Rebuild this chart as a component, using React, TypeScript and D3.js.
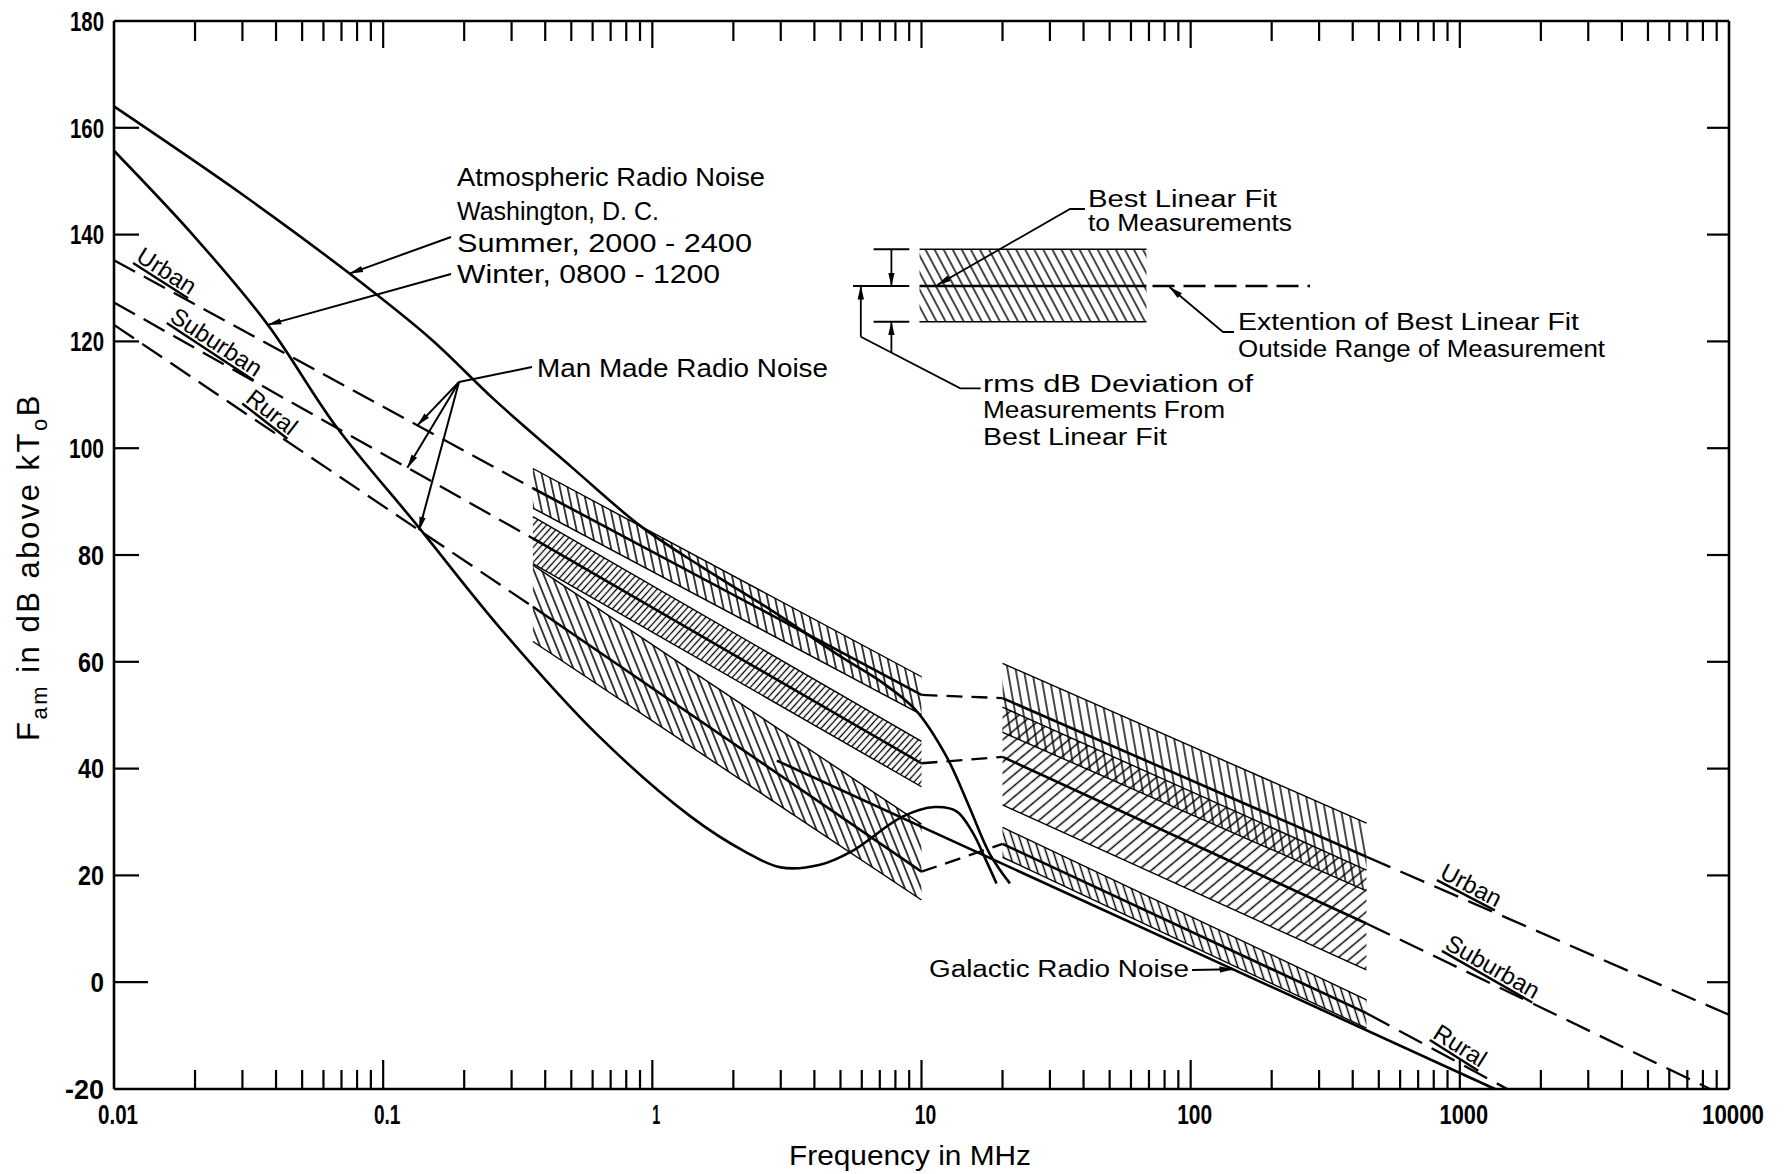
import * as d3 from "d3";

// ---- values: frequency in MHz, level in dB above kToB ----
const noiseTypes = ["Urban", "Suburban", "Rural"];

// dashed extension below the measured range (starts at 0.01 MHz)
const extStartFreq = 0.01;
const extStartDb = [135.2, 127.3, 123.1];

// measured band, low frequency group
const band1Freq = [0.36, 10];
const band1Upper = [[96.2, 57.2], [87.2, 45.1], [78.1, 29.6]];
const band1Center = [[92.5, 53.8], [83.1, 41.0], [70.3, 20.7]];
const band1Lower = [[88.8, 50.1], [78.4, 36.6], [63.8, 15.4]];

// measured band, high frequency group
const band2Freq = [20, 450];
const band2Upper = [[59.7, 29.8], [51.5, 21.0], [29.0, -3.3]];
const band2Center = [[53.2, 23.5], [42.2, 11.0], [25.9, -5.8]];
const band2Lower = [[46.8, 17.1], [33.2, 2.3], [23.4, -8.6]];

// dashed extension above the measured range
const extEndFreq = [10000, 8500, 1500];
const extEndDb = [-6.1, -20, -20];

// atmospheric noise, Washington D.C.
const summerFreq = [0.01, 0.03, 0.075, 0.15, 0.26, 0.5, 0.9, 1.5, 2.7, 5, 7.2, 9.5, 12.4, 15, 17.9, 21.3];
const summerDb = [164, 147.5, 132.7, 120.5, 109, 96.5, 85.5, 78, 70, 61, 56, 51, 42.2, 33, 24.1, 18.5];
const winterFreq = [0.01, 0.02, 0.0373, 0.067, 0.134, 0.27, 0.62, 1.39, 2.2, 3, 4.2, 5.5, 8.5, 11.2, 13.5, 15.5, 17.3, 19];
const winterDb = [155.7, 139.5, 123.1, 104, 85.5, 66.5, 46.5, 31, 24.5, 21.5, 22, 24.5, 31, 32.8, 32, 28, 23, 18.5];

// galactic noise
const galacticFreq = [2.9, 1350];
const galacticDb = [41.5, -20];

const yTickValues = [-20, 0, 20, 40, 60, 80, 100, 120, 140, 160, 180];
const xDecades = [0.01, 0.1, 1, 10, 100, 1000, 10000];
const xTickLabels = ["0.01", "0.1", "1", "10", "100", "1000", "10000"];

// ---- layout ----
const W = 1788;
const H = 1174;
const left = 114;
const right = 1729;
const top = 21;
const bottom = 1089;

const textFont = "'Liberation Sans', Arial, sans-serif";

const band1Hatch = [
  { angle: -12, gap: 7.5 },
  { angle: 42, gap: 5 },
  { angle: -22, gap: 7.5 },
];
const band2Hatch = [
  { angle: -10, gap: 8 },
  { angle: 50, gap: 8.5 },
  { angle: -18, gap: 7 },
];

// where the rotated Urban/Suburban/Rural names sit (freq on the dashed line)
const leftLabelFreq = [0.0146, 0.0223, 0.0355];
const rightLabelFreq = [1035, 1239, 933];
// freq where the "Man Made" arrows touch the dashed lines
const manMadeTipFreq = [0.134, 0.123, 0.136];

const lerpLog = (f0: number, d0: number, f1: number, d1: number, f: number) =>
  d0 + ((d1 - d0) * (Math.log10(f) - Math.log10(f0))) / (Math.log10(f1) - Math.log10(f0));

// condensed tick numerals: width per glyph
const glyphW: Record<string, number> = { "1": 8, "0": 13.5, ".": 5, "-": 13 };
const numWidth = (s: string) => s.split("").reduce((w, ch) => w + (glyphW[ch] ?? 12.5), 0);

function Hatch({ id, angle, gap, sw = 1.45 }: { id: string; angle: number; gap: number; sw?: number }) {
  return (
    <pattern id={id} patternUnits="userSpaceOnUse" width={gap} height={gap} patternTransform={`rotate(${angle})`}>
      <line x1={gap / 2} y1={-1} x2={gap / 2} y2={gap + 1} stroke="#000" strokeWidth={sw} />
    </pattern>
  );
}

export default function App() {
  const x = d3.scaleLog().domain([0.01, 10000]).range([left, right]);
  const y = d3.scaleLinear().domain([-20, 180]).range([bottom, top]);

  const straight = d3
    .line<[number, number]>()
    .x((d) => x(d[0]))
    .y((d) => y(d[1]));
  const smooth = d3
    .line<[number, number]>()
    .x((d) => x(d[0]))
    .y((d) => y(d[1]))
    .curve(d3.curveCatmullRom.alpha(0.5));

  const summer = summerFreq.map((f, i) => [f, summerDb[i]] as [number, number]);
  const winter = winterFreq.map((f, i) => [f, winterDb[i]] as [number, number]);
  const galactic = galacticFreq.map((f, i) => [f, galacticDb[i]] as [number, number]);

  // minor ticks 2..9 in each decade
  const minorTicks: number[] = [];
  xDecades.slice(0, -1).forEach((d) => {
    for (let k = 2; k <= 9; k++) minorTicks.push(d * k);
  });

  const bandPoly = (freq: number[], up: number[], lo: number[]) =>
    `${x(freq[0])},${y(up[0])} ${x(freq[1])},${y(up[1])} ${x(freq[1])},${y(lo[1])} ${x(freq[0])},${y(lo[0])}`;

  const leftExtDb = (i: number, f: number) => lerpLog(extStartFreq, extStartDb[i], band1Freq[0], band1Center[i][0], f);
  const rightExtDb = (i: number, f: number) => lerpLog(band2Freq[1], band2Center[i][1], extEndFreq[i], extEndDb[i], f);

  const lineLabel = (f: number, db: number, f2: number, db2: number, name: string, key: string, extraAngle: number) => {
    const px = x(f);
    const py = y(db);
    const ang = (Math.atan2(y(db2) - y(db), x(f2) - x(f)) * 180) / Math.PI + extraAngle;
    const rad = (ang * Math.PI) / 180;
    // move 16px "above" the line
    const ox = px + 16 * Math.sin(rad);
    const oy = py - 16 * Math.cos(rad);
    return (
      <text
        key={key}
        transform={`translate(${ox},${oy}) rotate(${ang})`}
        textAnchor="middle"
        dy="0.35em"
        fontSize={24}
        fontFamily={textFont}
        style={{ textDecoration: "underline" }}
      >
        {name}
      </text>
    );
  };

  // arrow tip positions via scales
  const summerTip = [x(summerFreq[2]), y(summerDb[2])];
  const winterTip = [x(winterFreq[2]), y(winterDb[2])];
  const galTipF = 143.6;
  const galTip = [x(galTipF), y(lerpLog(galacticFreq[0], galacticDb[0], galacticFreq[1], galacticDb[1], galTipF))];
  const fan = [459, 382];

  // inset legend box (pixels)
  const lg = { x0: 919.5, x1: 1146.5, yTop: 249.3, yMid: 286, yBot: 321.7, dashEnd: 1310 };

  const fit = "spacingAndGlyphs";

  return (
    <div style={{ position: "absolute", left: 0, top: 0 }}>
      <svg width={W} height={H} viewBox={`0 0 ${W} ${H}`} style={{ display: "block", background: "#fff" }}>
        <defs>
          {band1Hatch.map((h, i) => (
            <Hatch key={`b1${i}`} id={`b1-${i}`} angle={h.angle} gap={h.gap} sw={i === 1 ? 1.3 : 1.5} />
          ))}
          {band2Hatch.map((h, i) => (
            <Hatch key={`b2${i}`} id={`b2-${i}`} angle={h.angle} gap={h.gap} />
          ))}
          <Hatch id="legendHatch" angle={-28} gap={8} />
          <marker
            id="arrow"
            viewBox="0 0 14 8"
            refX="13.5"
            refY="4"
            markerWidth="14"
            markerHeight="8"
            markerUnits="userSpaceOnUse"
            orient="auto"
          >
            <path d="M0,0.8 L14,4 L0,7.2 z" fill="#000" />
          </marker>
        </defs>

        <rect x={0} y={0} width={W} height={H} fill="#fff" />

        {/* measured bands */}
        {noiseTypes.map((t, i) => (
          <polygon key={`band1-${t}`} points={bandPoly(band1Freq, band1Upper[i], band1Lower[i])} fill={`url(#b1-${i})`} />
        ))}
        {noiseTypes.map((t, i) => (
          <polygon key={`band2-${t}`} points={bandPoly(band2Freq, band2Upper[i], band2Lower[i])} fill={`url(#b2-${i})`} />
        ))}
        {noiseTypes.map((t, i) => (
          <g key={`edges-${t}`} stroke="#000" fill="none">
            <path d={straight(band1Freq.map((f, k) => [f, band1Upper[i][k]] as [number, number])) || ""} strokeWidth={1.4} />
            <path d={straight(band1Freq.map((f, k) => [f, band1Lower[i][k]] as [number, number])) || ""} strokeWidth={1.4} />
            <path d={straight(band1Freq.map((f, k) => [f, band1Center[i][k]] as [number, number])) || ""} strokeWidth={2.6} />
            <path d={straight(band2Freq.map((f, k) => [f, band2Upper[i][k]] as [number, number])) || ""} strokeWidth={1.4} />
            <path d={straight(band2Freq.map((f, k) => [f, band2Lower[i][k]] as [number, number])) || ""} strokeWidth={1.4} />
            <path d={straight(band2Freq.map((f, k) => [f, band2Center[i][k]] as [number, number])) || ""} strokeWidth={2.6} />
          </g>
        ))}

        {/* dashed best-fit extensions and connectors */}
        {noiseTypes.map((t, i) => (
          <g key={`dash-${t}`} stroke="#000" fill="none" strokeWidth={2.3}>
            <path
              d={straight([[extStartFreq, extStartDb[i]], [band1Freq[0], band1Center[i][0]]]) || ""}
              strokeDasharray="24 10"
            />
            <path
              d={straight([[band1Freq[1], band1Center[i][1]], [band2Freq[0], band2Center[i][0]]]) || ""}
              strokeDasharray="16 9"
            />
            <path
              d={straight([[band2Freq[1], band2Center[i][1]], [extEndFreq[i], extEndDb[i]]]) || ""}
              strokeDasharray="26 11"
            />
          </g>
        ))}

        {/* atmospheric and galactic noise */}
        <path d={smooth(summer) || ""} fill="none" stroke="#000" strokeWidth={2.6} />
        <path d={smooth(winter) || ""} fill="none" stroke="#000" strokeWidth={2.6} />
        <path d={straight(galactic) || ""} fill="none" stroke="#000" strokeWidth={2.6} />

        {/* axis frame */}
        <g stroke="#000" strokeWidth={2.6} fill="none">
          <line x1={left} x2={right} y1={top} y2={top} />
          <line x1={left} x2={right} y1={bottom} y2={bottom} />
          <line x1={left} x2={left} y1={top} y2={bottom} />
          <line x1={right} x2={right} y1={top} y2={bottom} />
        </g>

        {/* y ticks */}
        {yTickValues.map((v) => (
          <g key={`y${v}`}>
            {v > -20 && v < 180 && (
              <>
                <line x1={left} x2={left + (v === 0 ? 34 : 25)} y1={y(v)} y2={y(v)} stroke="#000" strokeWidth={2.2} />
                <line x1={right - 22} x2={right} y1={y(v)} y2={y(v)} stroke="#000" strokeWidth={2.2} />
              </>
            )}
            <text
              x={104}
              y={y(v)}
              dy="0.36em"
              textAnchor="end"
              fontSize={27}
              fontWeight={700}
              fontFamily={textFont}
              textLength={numWidth(String(v))}
              lengthAdjust={fit}
            >
              {v}
            </text>
          </g>
        ))}

        {/* x ticks */}
        {minorTicks.map((v) => (
          <g key={`xm${v}`} stroke="#000" strokeWidth={2.2}>
            <line x1={x(v)} x2={x(v)} y1={bottom} y2={bottom - 19} />
            <line x1={x(v)} x2={x(v)} y1={top} y2={top + 20} />
          </g>
        ))}
        {xDecades.map((v, i) => (
          <g key={`xd${v}`}>
            {i > 0 && i < xDecades.length - 1 && (
              <g stroke="#000" strokeWidth={2.2}>
                <line x1={x(v)} x2={x(v)} y1={bottom} y2={bottom - 29} />
                <line x1={x(v)} x2={x(v)} y1={top} y2={top + 27} />
              </g>
            )}
            <text
              x={x(v) + 4}
              y={1124}
              textAnchor="middle"
              fontSize={27}
              fontWeight={700}
              fontFamily={textFont}
              textLength={numWidth(xTickLabels[i])}
              lengthAdjust={fit}
            >
              {xTickLabels[i]}
            </text>
          </g>
        ))}

        {/* axis titles */}
        <text x={910} y={1165} textAnchor="middle" fontSize={27} fontFamily={textFont} textLength={242} lengthAdjust={fit}>
          Frequency in MHz
        </text>
        <text transform="translate(39,567) rotate(-90)" textAnchor="middle" fontSize={31} fontFamily={textFont} letterSpacing={2.5}>
          {"F"}
          <tspan fontSize={22} dy={8}>
            {"am"}
          </tspan>
          <tspan dy={-8}>{" in dB above kT"}</tspan>
          <tspan fontSize={22} dy={8}>
            {"o"}
          </tspan>
          <tspan dy={-8}>{"B"}</tspan>
        </text>

        {/* names along the dashed lines */}
        {noiseTypes.map((t, i) =>
          lineLabel(
            leftLabelFreq[i],
            leftExtDb(i, leftLabelFreq[i]),
            band1Freq[0],
            band1Center[i][0],
            t,
            `ll${t}`,
            4
          )
        )}
        {noiseTypes.map((t, i) =>
          lineLabel(
            rightLabelFreq[i],
            rightExtDb(i, rightLabelFreq[i]),
            extEndFreq[i],
            extEndDb[i],
            t,
            `rl${t}`,
            4
          )
        )}

        {/* atmospheric annotation */}
        <g fontFamily={textFont} fontSize={25}>
          <text x={457} y={186} textLength={308} lengthAdjust={fit}>Atmospheric Radio Noise</text>
          <text x={457} y={220}>Washington, D. C.</text>
          <text x={457} y={252} textLength={295} lengthAdjust={fit}>Summer, 2000 - 2400</text>
          <text x={457} y={283} textLength={263} lengthAdjust={fit}>Winter, 0800 - 1200</text>
        </g>
        <g stroke="#000" strokeWidth={2} fill="none">
          <path d={`M451,237 L${summerTip[0]},${summerTip[1]}`} markerEnd="url(#arrow)" />
          <path d={`M451,274 L${winterTip[0]},${winterTip[1]}`} markerEnd="url(#arrow)" />
        </g>

        {/* man made annotation */}
        <text x={537} y={377} fontFamily={textFont} fontSize={25} textLength={291} lengthAdjust={fit}>
          Man Made Radio Noise
        </text>
        <g stroke="#000" strokeWidth={2} fill="none">
          <path d={`M532,367 L${fan[0]},${fan[1]}`} />
          {noiseTypes.map((t, i) => (
            <path
              key={`mm${t}`}
              d={`M${fan[0]},${fan[1]} L${x(manMadeTipFreq[i])},${y(leftExtDb(i, manMadeTipFreq[i]))}`}
              markerEnd="url(#arrow)"
            />
          ))}
        </g>

        {/* galactic annotation */}
        <text x={929} y={977} fontFamily={textFont} fontSize={23} textLength={260} lengthAdjust={fit}>
          Galactic Radio Noise
        </text>
        <path d={`M1192,970 L${galTip[0]},${galTip[1]}`} stroke="#000" strokeWidth={2} fill="none" markerEnd="url(#arrow)" />

        {/* inset legend */}
        <g stroke="#000" fill="none">
          <rect x={lg.x0} y={lg.yTop} width={lg.x1 - lg.x0} height={lg.yBot - lg.yTop} fill="url(#legendHatch)" stroke="none" />
          <line x1={lg.x0} x2={lg.x1} y1={lg.yTop} y2={lg.yTop} strokeWidth={1.6} />
          <line x1={lg.x0} x2={lg.x1} y1={lg.yBot} y2={lg.yBot} strokeWidth={1.6} />
          <line x1={lg.x0} x2={lg.x1} y1={lg.yMid} y2={lg.yMid} strokeWidth={2.6} />
          <line x1={lg.x1} x2={lg.dashEnd} y1={lg.yMid} y2={lg.yMid} strokeWidth={2.6} strokeDasharray="22 9" strokeDashoffset={-6} />
          <line x1={873.6} x2={909.3} y1={lg.yTop} y2={lg.yTop} strokeWidth={2} />
          <line x1={873.6} x2={909.3} y1={lg.yBot} y2={lg.yBot} strokeWidth={2} />
          <line x1={853} x2={909.3} y1={lg.yMid} y2={lg.yMid} strokeWidth={2.2} />
          <path d={`M891.4,${lg.yTop} L891.4,${lg.yMid}`} strokeWidth={1.8} markerEnd="url(#arrow)" />
          <path d={`M891.4,352.6 L891.4,${lg.yBot}`} strokeWidth={1.8} markerEnd="url(#arrow)" />
          <path d={`M860.8,336.7 L860.8,${lg.yMid}`} strokeWidth={1.8} markerEnd="url(#arrow)" />
          <path d="M860.8,336.7 L960.3,388.3 L980.7,388.3" strokeWidth={1.8} />
          <path d="M1085,209 L1070,209 L937.3,285" strokeWidth={1.8} markerEnd="url(#arrow)" />
          <path d="M1234,332 L1223,332 L1169.5,287" strokeWidth={1.8} markerEnd="url(#arrow)" />
        </g>
        <g fontFamily={textFont} fontSize={23}>
          <text x={1088} y={207} textLength={189} lengthAdjust={fit}>Best Linear Fit</text>
          <text x={1088} y={231} textLength={204} lengthAdjust={fit}>to Measurements</text>
          <text x={1238} y={330} textLength={341} lengthAdjust={fit}>Extention of Best Linear Fit</text>
          <text x={1238} y={357} textLength={367} lengthAdjust={fit}>Outside Range of Measurement</text>
          <text x={983} y={392} textLength={270} lengthAdjust={fit}>rms  dB  Deviation of</text>
          <text x={983} y={418} textLength={242} lengthAdjust={fit}>Measurements From</text>
          <text x={983} y={445} textLength={184} lengthAdjust={fit}>Best Linear Fit</text>
        </g>
      </svg>
    </div>
  );
}
